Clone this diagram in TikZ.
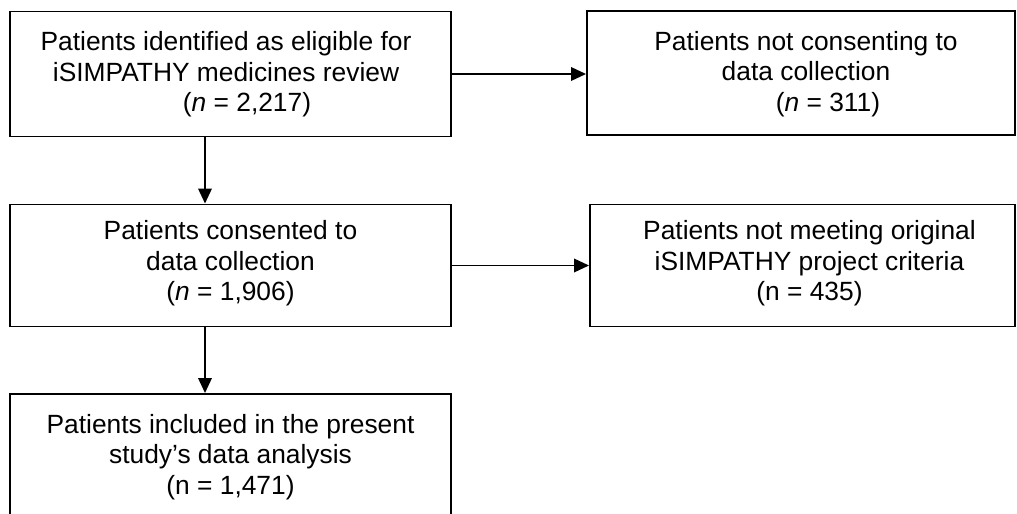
\documentclass[tikz,border=0pt]{standalone}
\usepackage{fontspec}
\setmainfont{Liberation Sans}
\usetikzlibrary{arrows.meta}

\tikzset{
    box/.style={draw, line width=1.1pt, minimum width=8.82cm, minimum height=2.5cm, inner sep=0pt},
    txt/.style={align=center, anchor=north, inner sep=0pt, font=\fontsize{15}{17.25}\selectfont},
    arr/.style={-{Triangle[length=0.3cm,width=0.27cm]}, line width=1.1pt}
}

\begin{document}
\begin{tikzpicture}
    \useasboundingbox (0,0) rectangle (20.34,-10.28);
    \clip (0,0) rectangle (20.34,-10.28);

    % boxes
    \node[box] (elig) at (4.61,-1.48) {};
    \node[box, minimum width=8.56cm, minimum height=2.48cm] (nocons) at (16.02,-1.46) {};
    \node[box, minimum height=2.44cm] (cons) at (4.61,-5.31) {};
    \node[box, minimum width=8.50cm, minimum height=2.44cm] (notmeet) at (16.05,-5.31) {};
    \node[box] (incl) at (4.61,-9.13) {};

    % texts
    \node[txt] (eligtxt) at ([xshift=-0.09cm,yshift=-0.42cm]elig.north) {Patients identified as eligible for\\iSIMPATHY medicines review\\\hspace*{0.84cm}(\textit{n} = 2,217)};
    \node[txt] (noconstxt) at ([xshift=0.1cm,yshift=-0.42cm]nocons.north) {Patients not consenting to\\data collection\\\hspace*{0.88cm}(\textit{n} = 311)};
    \node[txt] (constxt) at ([yshift=-0.34cm]cons.north) {Patients consented to\\data collection\\(\textit{n} = 1,906)};
    \node[txt] (notmeettxt) at ([xshift=0.14cm,yshift=-0.34cm]notmeet.north) {Patients not meeting original\\iSIMPATHY project criteria\\(n = 435)};
    \node[txt] (incltxt) at ([yshift=-0.42cm]incl.north) {Patients included in the present\\study’s data analysis\\(n = 1,471)};

    % arrows
    \draw[arr] ([xshift=-0.51cm]elig.south) -- ([xshift=-0.51cm]cons.north);
    \draw[arr] ([xshift=-0.51cm]cons.south) -- ([xshift=-0.51cm]incl.north);
    \draw[arr] (elig.east) -- (elig.east -| nocons.west);
    \draw[arr] (cons.east) -- (cons.east -| notmeet.west);
\end{tikzpicture}
\end{document}
